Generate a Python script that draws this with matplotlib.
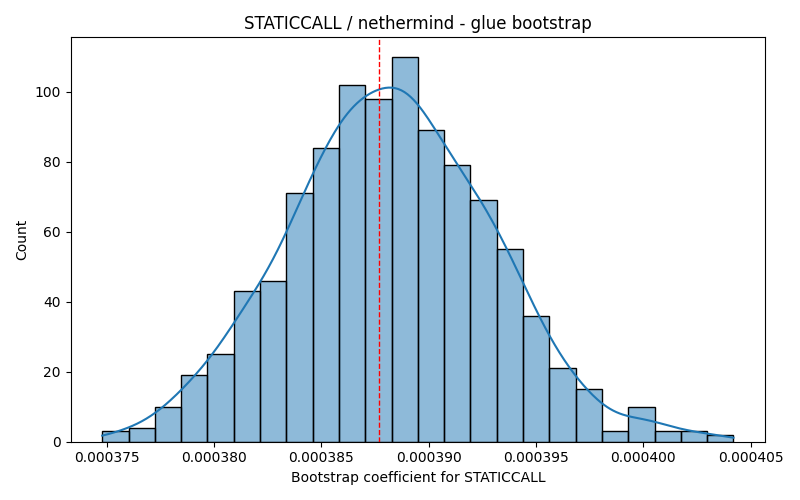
import numpy as np
import matplotlib
matplotlib.use('Agg')
from matplotlib import pyplot as plt

# bootstrap histogram (24 bins, 1000 draws)
bin_lo = 0.0003748
bin_hi = 0.0004042
counts = np.array([3, 4, 10, 19, 25, 43, 46, 71, 84, 102, 98, 110,
                   89, 79, 69, 55, 36, 21, 15, 3, 10, 3, 3, 2])
point_est = 0.0003877  # red dashed line

edges = np.linspace(bin_lo, bin_hi, len(counts) + 1)
centers = (edges[:-1] + edges[1:]) / 2
width = edges[1] - edges[0]

# kde from the binned samples (scott's rule like seaborn)
samples = np.repeat(centers, counts)
n = len(samples)
bw = np.std(samples, ddof=1) * n ** (-1 / 5)
xs = np.linspace(edges[0], edges[-1], 400)
dens = np.exp(-0.5 * ((xs[:, None] - samples[None, :]) / bw) ** 2).sum(axis=1)
dens = dens / (n * bw * np.sqrt(2 * np.pi))
kde_counts = dens * n * width

fig, ax = plt.subplots(figsize=(8, 5), dpi=100)
ax.bar(centers, counts, width=width, color=(0.122, 0.467, 0.706, 0.5),
       edgecolor='black', linewidth=1)
ax.plot(xs, kde_counts, color='#1f77b4', linewidth=1.5)
ax.axvline(point_est, color='red', linestyle='--', linewidth=1)

ax.set_title('STATICCALL / nethermind - glue bootstrap')
ax.set_xlabel('Bootstrap coefficient for STATICCALL')
ax.set_ylabel('Count')
ax.set_xticks([0.000375, 0.000380, 0.000385, 0.000390, 0.000395, 0.000400, 0.000405])
ax.set_xticklabels(['0.000375', '0.000380', '0.000385', '0.000390',
                    '0.000395', '0.000400', '0.000405'])
ax.set_xlim(edges[0] - 0.05 * (edges[-1] - edges[0]), edges[-1] + 0.05 * (edges[-1] - edges[0]))

plt.tight_layout()
plt.savefig('out.png', dpi=100)
